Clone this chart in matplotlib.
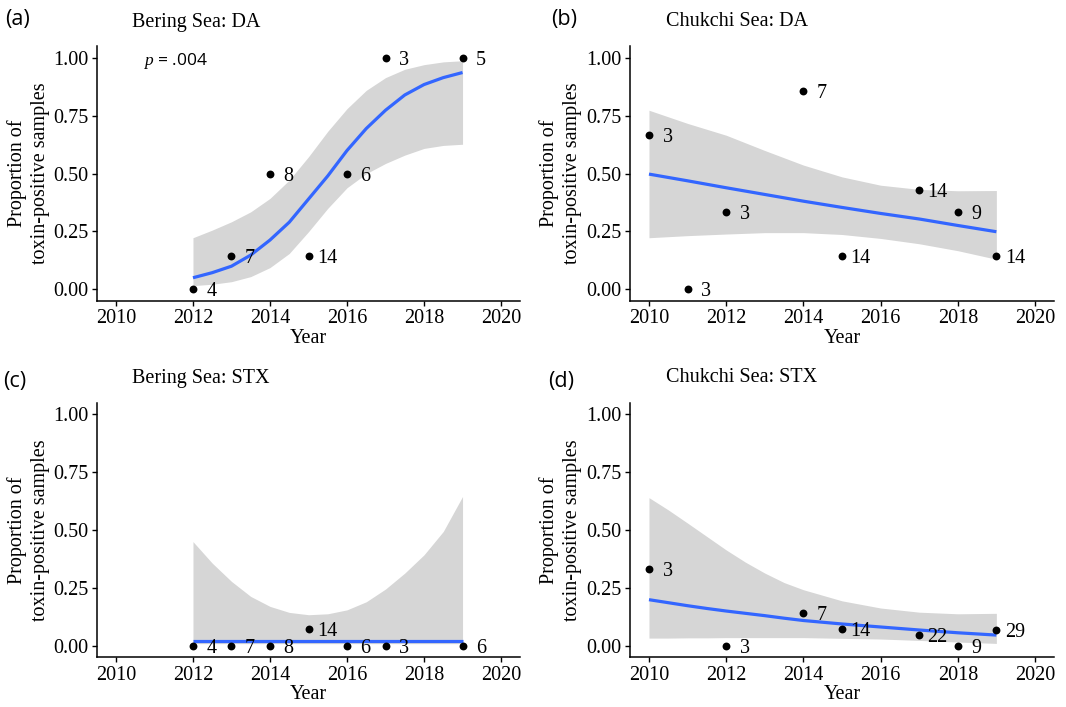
import numpy as np
import matplotlib
matplotlib.use("Agg")
import matplotlib.pyplot as plt

# =========================
# DATA
# =========================
# Bering Sea: DA
years_bering_da = [2012, 2013, 2014, 2015, 2016, 2017, 2019]
prop_bering_da = [0.0, 0.143, 0.5, 0.143, 0.5, 1.0, 1.0]
n_bering_da = [4, 7, 8, 14, 6, 3, 5]

fit_x_bering_da = [2012, 2012.5, 2013, 2013.5, 2014, 2014.5, 2015, 2015.5,
                   2016, 2016.5, 2017, 2017.5, 2018, 2018.5, 2019]
fit_bering_da = [0.05, 0.072, 0.10, 0.148, 0.213, 0.29, 0.39, 0.49,
                 0.60, 0.695, 0.774, 0.84, 0.885, 0.915, 0.937]
lo_bering_da = [0.016, 0.022, 0.033, 0.055, 0.094, 0.155, 0.249, 0.35,
                0.439, 0.50, 0.544, 0.58, 0.609, 0.622, 0.627]
hi_bering_da = [0.223, 0.256, 0.292, 0.335, 0.393, 0.472, 0.573, 0.683,
                0.781, 0.86, 0.915, 0.951, 0.971, 0.983, 0.988]

# Chukchi Sea: DA
years_chukchi_da = [2010, 2011, 2012, 2014, 2015, 2017, 2018, 2019]
prop_chukchi_da = [0.667, 0.0, 0.333, 0.857, 0.143, 0.429, 0.333, 0.143]
n_chukchi_da = [3, 3, 3, 7, 14, 14, 9, 14]

fit_x_chukchi_da = [2010, 2011, 2012, 2013, 2014, 2015, 2016, 2017, 2018, 2019]
fit_chukchi_da = [0.498, 0.469, 0.439, 0.41, 0.381, 0.354, 0.328, 0.304, 0.276, 0.249]
lo_chukchi_da = [0.223, 0.232, 0.239, 0.245, 0.245, 0.237, 0.22, 0.197, 0.167, 0.13]
hi_chukchi_da = [0.774, 0.717, 0.666, 0.60, 0.537, 0.486, 0.45, 0.432, 0.426, 0.427]

# Bering Sea: STX
years_bering_stx = [2012, 2013, 2014, 2015, 2016, 2017, 2019]
prop_bering_stx = [0.0, 0.0, 0.0, 0.071, 0.0, 0.0, 0.0]
n_bering_stx = [4, 7, 8, 14, 6, 3, 6]

fit_x_bering_stx = [2012, 2012.5, 2013, 2013.5, 2014, 2014.5, 2015, 2015.5,
                    2016, 2016.5, 2017, 2017.5, 2018, 2018.5, 2019]
fit_bering_stx = [0.021, 0.021, 0.021, 0.021, 0.021, 0.021, 0.021, 0.021,
                  0.021, 0.021, 0.021, 0.021, 0.021, 0.021, 0.021]
lo_bering_stx = [0.009, 0.009, 0.009, 0.009, 0.009, 0.009, 0.009, 0.009,
                 0.009, 0.009, 0.009, 0.009, 0.009, 0.009, 0.009]
hi_bering_stx = [0.45, 0.357, 0.278, 0.213, 0.17, 0.144, 0.134, 0.138,
                 0.155, 0.19, 0.245, 0.314, 0.393, 0.494, 0.645]

# Chukchi Sea: STX
years_chukchi_stx = [2010, 2012, 2014, 2015, 2017, 2018, 2019]
prop_chukchi_stx = [0.333, 0.0, 0.143, 0.071, 0.045, 0.0, 0.069]
n_chukchi_stx = [3, 3, 7, 14, 22, 9, 29]

fit_x_chukchi_stx = [2010, 2010.5, 2011, 2011.5, 2012, 2012.5, 2013, 2013.5,
                     2014, 2015, 2016, 2017, 2018, 2019]
fit_chukchi_stx = [0.199, 0.186, 0.173, 0.161, 0.15, 0.14, 0.13, 0.119,
                   0.109, 0.094, 0.081, 0.068, 0.056, 0.046]
lo_chukchi_stx = [0.033, 0.033, 0.034, 0.034, 0.035, 0.035, 0.035, 0.035,
                  0.035, 0.032, 0.029, 0.023, 0.016, 0.01]
hi_chukchi_stx = [0.64, 0.587, 0.53, 0.472, 0.414, 0.361, 0.314, 0.273,
                  0.242, 0.194, 0.163, 0.145, 0.138, 0.14]

x_ticks = [2010, 2012, 2014, 2016, 2018, 2020]
y_ticks = [0.0, 0.25, 0.5, 0.75, 1.0]
y_tick_labels = ["0.00", "0.25", "0.50", "0.75", "1.00"]

# =========================
# STYLE
# =========================
SERIF = "Liberation Serif"
SANS = "Open Sans"
FS = 14.5
plt.rcParams["font.family"] = SERIF
plt.rcParams["mathtext.fontset"] = "custom"
plt.rcParams["mathtext.it"] = "Liberation Serif:italic"
plt.rcParams["mathtext.rm"] = "Open Sans"

W, H = 1066, 707
fig = plt.figure(figsize=(W / 100, H / 100), dpi=100)


def fx(px):
    return px / W


def fy(py):
    return 1 - py / H


def draw_panel(ax, years, prop, n, fit_x, fit, lo, hi):
    ax.fill_between(fit_x, lo, hi, color="#d6d6d6", linewidth=0, zorder=1)
    ax.plot(fit_x, fit, color="#3366FF", linewidth=2.3, zorder=2,
            solid_capstyle="butt", solid_joinstyle="round")
    ax.scatter(years, prop, s=32, color="black", zorder=3, linewidths=0)
    for x, y, lab in zip(years, prop, n):
        ax.text(x + 0.48, y, str(lab), ha="center", va="center_baseline",
                fontsize=FS, zorder=4)

    ax.set_xlim(2009.5, 2020.5)
    ax.set_ylim(-0.05, 1.05)
    ax.set_xticks(x_ticks)
    ax.set_yticks(y_ticks)
    ax.set_yticklabels(y_tick_labels)
    for side in ["top", "right"]:
        ax.spines[side].set_visible(False)
    for side in ["left", "bottom"]:
        ax.spines[side].set_linewidth(1.1)
    ax.tick_params(axis="both", length=3.5, width=1.0, pad=2.5,
                   labelsize=FS, colors="black")
    ax.set_xlabel("Year", fontsize=FS, va="center")
    ax.xaxis.set_label_coords(0.5, -0.148)
    ax.set_ylabel("Proportion of\ntoxin-positive samples", fontsize=FS,
                  va="center", linespacing=1.25)


# =========================
# PANELS
# =========================
ax_a = fig.add_axes([0.0907, 0.5744, 0.3974, 0.360])
ax_b = fig.add_axes([0.5907, 0.5744, 0.3983, 0.360])
ax_c = fig.add_axes([0.0907, 0.0703, 0.3974, 0.360])
ax_d = fig.add_axes([0.5907, 0.0703, 0.3983, 0.360])

draw_panel(ax_a, years_bering_da, prop_bering_da, n_bering_da,
           fit_x_bering_da, fit_bering_da, lo_bering_da, hi_bering_da)
draw_panel(ax_b, years_chukchi_da, prop_chukchi_da, n_chukchi_da,
           fit_x_chukchi_da, fit_chukchi_da, lo_chukchi_da, hi_chukchi_da)
draw_panel(ax_c, years_bering_stx, prop_bering_stx, n_bering_stx,
           fit_x_bering_stx, fit_bering_stx, lo_bering_stx, hi_bering_stx)
draw_panel(ax_d, years_chukchi_stx, prop_chukchi_stx, n_chukchi_stx,
           fit_x_chukchi_stx, fit_chukchi_stx, lo_chukchi_stx, hi_chukchi_stx)

for ax in [ax_a, ax_c]:
    ax.yaxis.set_label_coords(-0.161, 0.5)
for ax in [ax_b, ax_d]:
    ax.yaxis.set_label_coords(-0.163, 0.5)

# p-value annotation
ax_a.text(2010.7, 1.0, r"$p$ = .004", family=SANS, fontsize=12.5,
          ha="left", va="center_baseline")

# titles and panel letters
fig.text(fx(132.5), fy(22), "Bering Sea: DA", fontsize=FS, ha="left", va="center")
fig.text(fx(666), fy(22), "Chukchi Sea: DA", fontsize=FS, ha="left", va="center")
fig.text(fx(132.5), fy(378), "Bering Sea: STX", fontsize=FS, ha="left", va="center")
fig.text(fx(666), fy(378), "Chukchi Sea: STX", fontsize=FS, ha="left", va="center")

fig.text(fx(5), fy(19), "(a)", family=SANS, fontsize=15.5, ha="left", va="center")
fig.text(fx(551), fy(19), "(b)", family=SANS, fontsize=15.5, ha="left", va="center")
fig.text(fx(3), fy(382), "(c)", family=SANS, fontsize=15.5, ha="left", va="center")
fig.text(fx(548), fy(382), "(d)", family=SANS, fontsize=15.5, ha="left", va="center")

fig.savefig("out.png", dpi=100)
plt.close(fig)
